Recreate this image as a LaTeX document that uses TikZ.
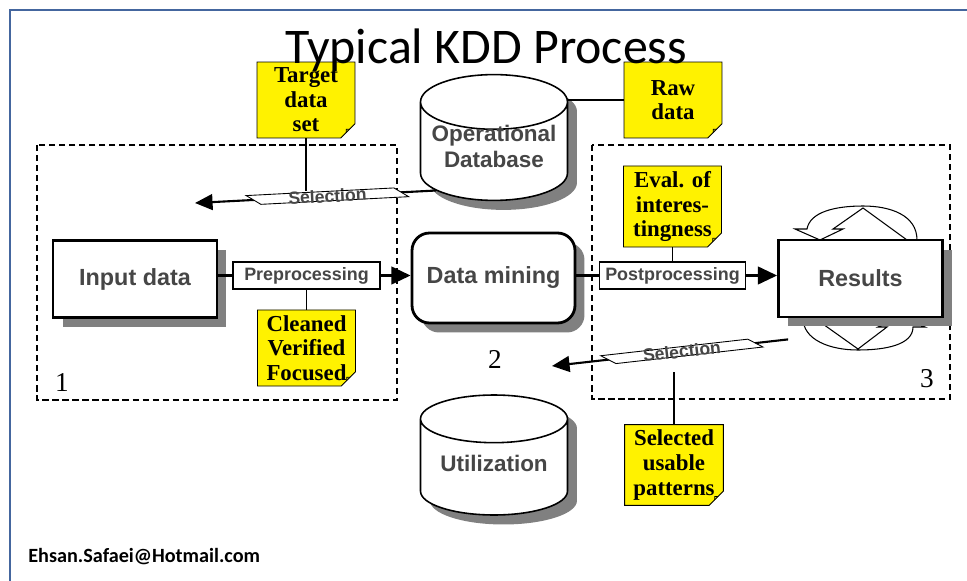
\documentclass[tikz,border=0pt]{standalone}
\usepackage{fontspec}
\setmainfont{Liberation Serif}
\newfontfamily\boxfont{Liberation Sans}
\newfontfamily\slidefont{Carlito}
\usetikzlibrary{positioning,calc,arrows.meta,shadows,shapes.geometric,shapes.misc}

\definecolor{framecol}{RGB}{68,102,158}
\definecolor{labelgray}{RGB}{70,70,70}
\definecolor{foldcol}{RGB}{205,205,40}

\begin{document}
\begin{tikzpicture}[x=0.02cm, y=-0.02cm,
    boxshadow/.style = {drop shadow={shadow xshift=0.19cm, shadow yshift=-0.19cm, fill=black!50, opacity=1}},
    stage/.style = {rectangle, draw, line width=1.6pt, fill=white, minimum width=3.28cm, minimum height=1.54cm, font=\boxfont\bfseries\fontsize{13.3}{16}\selectfont, text=labelgray, boxshadow},
    tool/.style = {rectangle, draw, line width=0.6pt, fill=white, minimum width=2.94cm, minimum height=0.54cm, inner sep=0pt, font=\boxfont\bfseries\fontsize{10.2}{12}\selectfont, text=labelgray},
    store/.style = {cylinder, shape border rotate=90, aspect=0.4, anchor=shape center, draw, line width=0.9pt, fill=white, minimum width=2.94cm, minimum height=2.4cm, align=center, font=\boxfont\bfseries\fontsize{12.8}{14.5}\selectfont, text=labelgray, boxshadow},
    storetext/.style = {align=center, font=\boxfont\bfseries\fontsize{12.8}{14.5}\selectfont, text=labelgray},
    note/.style = {chamfered rectangle, chamfered rectangle corners=south east, chamfered rectangle xsep=5pt, draw, line width=0.5pt, fill=yellow, minimum width=1.96cm, minimum height=1.52cm, inner sep=0pt, align=center, font=\bfseries\fontsize{13}{14}\selectfont,
      path picture={\draw[fill=foldcol, line width=0.4pt] ([xshift=-5pt]path picture bounding box.south east) -- ([yshift=5pt]path picture bounding box.south east) -- ([xshift=-5pt, yshift=5pt]path picture bounding box.south east) -- cycle;}},
    banner/.style = {rectangle, draw, line width=0.5pt, fill=white, sloped, xslant=-1.5, minimum width=2.96cm, minimum height=0.19cm, inner sep=0pt},
    bannertext/.style = {sloped, inner sep=0pt, font=\boxfont\bfseries\fontsize{10}{12}\selectfont, text=labelgray},
    phase/.style = {draw, line width=0.9pt, dash pattern=on 3.5pt off 2.2pt},
    flow/.style = {line width=1.6pt},
    tip/.style = {-{Triangle[length=11pt, width=10pt]}},
    selarrow/.style = {line width=1.2pt, -{Triangle[length=10pt, width=9pt]}},
    link/.style = {line width=1pt},
    turn/.style = {draw, fill=white, line width=0.6pt},
    phasenum/.style = {font=\fontsize{15.5}{18}\selectfont}]

    \useasboundingbox (0,0) rectangle (967,581);
    \draw[framecol, line width=1.7pt] (10,581) -- (10,10) -- (967,10);

    \draw[phase] (37,145) rectangle (397,400);
    \draw[phase] (592,145) rectangle (950,399);
    \node[phasenum] (n1) at (62,383) {1};
    \node[phasenum] (n2) at (495,359) {2};
    \node[phasenum] (n3) at (927,379) {3};

    \path[turn] (807,229) .. controls (810,212) and (835,206) .. (863,206) .. controls (890,206) and (917,215) .. (917,240) -- (907,240) -- (863,208) -- (833,229) -- (843,229) -- (820,240) -- (795,229) -- cycle;
    \path[turn] (813,317) -- (858,349) -- (887,327) -- (878,327) -- (900,317) -- (925,327) -- (913,327) .. controls (913,345) and (885,350) .. (858,350) .. controls (830,350) and (803,340) .. (803,318) -- cycle;

    \node[stage] (in) at (135,279) {Input data};
    \node[tool] (pre) at (306.5,275.5) {Preprocessing};
    \node[stage, rounded corners=0.35cm, minimum width=3.26cm, minimum height=1.8cm] (dm) at (493.5,278) {Data mining};
    \node[tool, minimum width=2.92cm] (post) at (672.5,275.5) {Postprocessing};
    \node[stage] (res) at (860.5,278.5) {Results};
    \node[store, label={[storetext, yshift=6pt]center:Operational\\Database}] (opdb) at (494,137.5) {\phantom{Operational}\\\phantom{Database}};
    \node[store, label={[storetext, yshift=5pt]center:Utilization}] (util) at (494,455) {\phantom{Utilization}};
    \node[note] (target) at (306,100) {Target\\data\\set};
    \node[note] (raw) at (673,100) {Raw\\data};
    \node[note, above=0.28cm of post] (eval) {Eval. of\\interes-\\tingness};
    \node[note, below=0.4cm of pre] (clean) {Cleaned\\Verified\\Focused};
    \node[note, minimum width=1.92cm] (usable) at (674,465) {Selected\\usable\\patterns};

    \draw[flow] (in.east |- pre.west) -- (pre.west);
    \draw[flow, tip] (pre.east) -- (pre.east -| dm.west);
    \draw[flow] (dm.east |- post.west) -- (post.west);
    \draw[flow, tip] (post.east) -- (post.east -| res.west);
    \draw[link] (pre.south) -- (clean.north);
    \draw[link] (eval.south) -- (post.north);
    \draw[link] (raw.west) -- (raw.west -| opdb.east);

    \coordinate (tipA) at (195,203);
    \coordinate (fromres) at ($(res.south west)+(11,21)$);
    \coordinate (tipB) at (552,366);
    \draw[selarrow] (opdb.210) -- node[banner, pos=0.45] (selA) {} node[bannertext, pos=0.45] {Selection} (tipA);
    \draw[selarrow] (fromres) -- node[banner, pos=0.45] (selB) {} node[bannertext, pos=0.45] {Selection} (tipB);
    \draw[link] (target.south) -- (target.south |- selA.north);
    \draw[link] (usable.north) -- ($(usable.north |- selB.south)+(0,16)$);

    \node[font=\slidefont\fontsize{28.4}{34}\selectfont, anchor=base] (title) at (486,64) {Typical KDD Process};
    \node[font=\slidefont\bfseries\fontsize{11.5}{14}\selectfont, anchor=base west, inner sep=0pt] (mail) at (28,562) {Ehsan.Safaei@Hotmail.com};
\end{tikzpicture}
\end{document}
